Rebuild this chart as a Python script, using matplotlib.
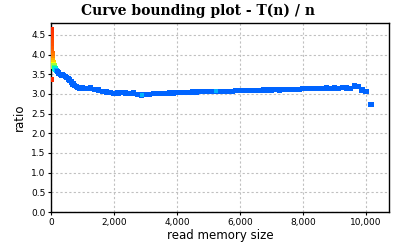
import numpy as np
import matplotlib
matplotlib.use("Agg")
from matplotlib import pyplot as plt
from matplotlib.colors import LinearSegmentedColormap, Normalize

# read memory size vs T(n)/n
head_x = [5, 8, 10, 12, 15, 18, 20, 24, 28, 32, 38, 45, 55, 65, 80, 95, 110, 130, 150, 175, 5]
head_y = [4.62, 4.55, 4.48, 4.42, 4.36, 4.30, 4.22, 4.15, 4.08, 4.02, 3.96, 3.90, 3.84, 3.80,
          3.75, 3.71, 3.68, 3.65, 3.62, 3.59, 3.37]

body_x = [200, 250, 300, 350, 400, 450, 500, 550, 600, 650, 700, 750, 800, 850, 900,
          1000, 1125, 1250, 1375, 1500, 1625, 1750, 1875, 2000, 2125, 2250, 2375, 2500,
          2625, 2750, 2875, 3000, 3125, 3250, 3375, 3500, 3625, 3750, 3875, 4000, 4125,
          4250, 4375, 4500, 4625, 4750, 4875, 5000, 5125, 5250, 5375, 5500, 5625, 5750,
          5875, 6000, 6125, 6250, 6375, 6500, 6625, 6750, 6875, 7000, 7125, 7250, 7375,
          7500, 7625, 7750, 7875, 8000, 8125, 8250, 8375, 8500, 8625, 8750, 8875, 9000,
          9125, 9250, 9375, 9500, 9625, 9750, 9875, 10000, 10160]
body_y = [3.56, 3.53, 3.50, 3.48, 3.46, 3.44, 3.41, 3.38, 3.35, 3.30, 3.25, 3.21, 3.18, 3.16, 3.15,
          3.15, 3.14, 3.15, 3.11, 3.10, 3.07, 3.05, 3.03, 3.01, 3.02, 3.04, 3.02, 3.01,
          3.02, 2.99, 2.97, 2.98, 2.99, 3.00, 3.00, 3.01, 3.01, 3.02, 3.02, 3.03, 3.03,
          3.04, 3.04, 3.05, 3.05, 3.06, 3.06, 3.06, 3.06, 3.07, 3.06, 3.07, 3.07, 3.07,
          3.08, 3.08, 3.09, 3.08, 3.09, 3.08, 3.09, 3.10, 3.10, 3.10, 3.11, 3.10, 3.11,
          3.11, 3.12, 3.12, 3.12, 3.13, 3.14, 3.13, 3.14, 3.13, 3.14, 3.15, 3.14, 3.15,
          3.14, 3.16, 3.15, 3.13, 3.20, 3.18, 3.10, 3.06, 2.74]

light_x = [2900, 5250]
light_y = [2.96, 3.07]

x_ticks = [0, 2000, 4000, 6000, 8000, 10000]
y_ticks = [0.0, 0.5, 1.0, 1.5, 2.0, 2.5, 3.0, 3.5, 4.0, 4.5]

heat = LinearSegmentedColormap.from_list(
    "heat", ["#ff2000", "#ff8000", "#ffff00", "#00ffa0", "#00e0ff", "#0064ff"])

fig = plt.figure(figsize=(3.96, 2.52), dpi=100)
ax = fig.add_axes([51 / 396, 1 - 212 / 252, 338 / 396, 189 / 252])

xs = head_x + body_x
ys = head_y + body_y
ax.scatter(xs, ys, c=xs, cmap=heat, norm=Normalize(0, 200, clip=True),
           marker="s", s=14, linewidths=0, zorder=3)
ax.scatter(light_x, light_y, color="#00b4ff", marker="s", s=10, linewidths=0, zorder=4)

ax.set_xlim(0, 10730)
ax.set_ylim(0, 4.8)
ax.set_xticks(x_ticks)
ax.set_xticklabels([f"{t:,}" for t in x_ticks])
ax.set_yticks(y_ticks)
ax.set_yticklabels([f"{t:.1f}" for t in y_ticks])
ax.grid(True, color="#c0c0c0", linestyle=(0, (2, 2)), linewidth=0.8)
ax.tick_params(labelsize=6.5, length=2, width=0.8, pad=2)
for s in ax.spines.values():
    s.set_linewidth(1.0)

ax.set_xlabel("read memory size", fontsize=8.5, labelpad=2)
ax.set_ylabel("ratio", fontsize=8.5, labelpad=4)
fig.text(0.5, 1 - 11 / 252, "Curve bounding plot - T(n) / n", ha="center", va="center",
         fontsize=10, fontweight="bold", family="DejaVu Serif")

fig.savefig("out.png", dpi=100)
